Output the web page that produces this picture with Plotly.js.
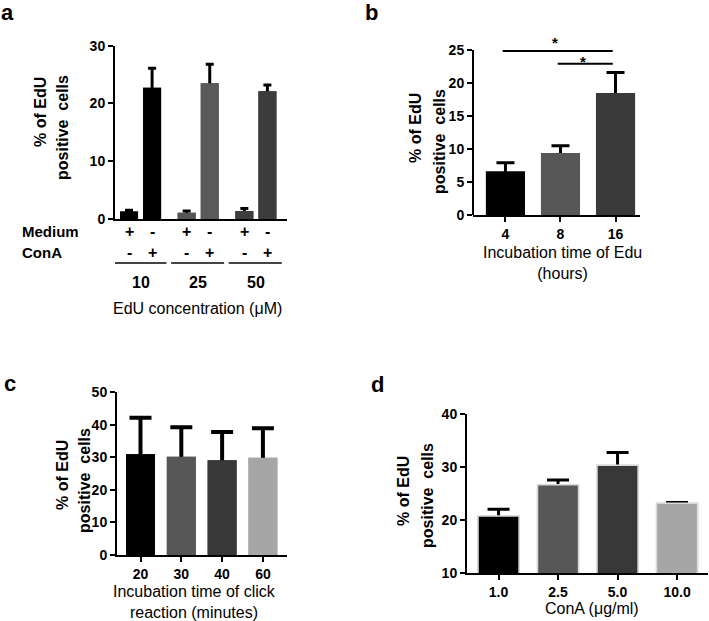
<!DOCTYPE html>
<html><head><meta charset="utf-8">
<script src="https://cdn.plot.ly/plotly-3.0.1.min.js"></script>
<style>html,body{margin:0;padding:0;background:#fff}#chart{width:709px;height:621px}</style>
</head><body><div id="chart"></div>
<script>
// ---------- Panel a ----------
const aConc = ['10', '25', '50'];
const aMedium = [1.3, 1.1, 1.4];
const aMediumErr = [0.2, 0.3, 0.4];
const aConA = [22.7, 23.5, 22.1];
const aConAErr = [3.4, 3.3, 1.1];
const aMediumColors = ['#000000', '#555555', '#3d3d3d'];
const aConAColors = ['#000000', '#5a5a5a', '#3c3c3c'];
const aRowLabels = ['Medium', 'ConA'];
const aSignsMediumBars = ['+', '-'];
const aSignsConABars = ['-', '+'];
const aXTitle = 'EdU concentration (μM)';
const aYTicks = [0, 10, 20, 30];

// ---------- Panel b ----------
const bHours = ['4', '8', '16'];
const bVals = [6.6, 9.4, 18.5];
const bErr = [1.3, 1.1, 3.1];
const bColors = ['#000000', '#575757', '#3a3a3a'];
const bSigFrom = [0, 1];
const bSigTo = [2, 2];
const bSigY = [24.85, 22.9];
const bSigStarY = [26.7, 23.8];
const bSigLabel = ['*', '*'];
const bYTicks = [0, 5, 10, 15, 20, 25];
const bXTitle = 'Incubation time of Edu<br>(hours)';

// ---------- Panel c ----------
const cMinutes = ['20', '30', '40', '60'];
const cVals = [30.9, 30.1, 29.1, 29.8];
const cErr = [11.2, 9.1, 8.6, 9.1];
const cColors = ['#000000', '#575757', '#383838', '#a6a6a6'];
const cYTicks = [0, 10, 20, 30, 40, 50];
const cXTitle = 'Incubation time of click<br>reaction (minutes)';

// ---------- Panel d ----------
const dConA = ['1.0', '2.5', '5.0', '10.0'];
const dVals = [20.8, 26.7, 30.4, 23.2];
const dErr = [1.3, 0.9, 2.4, 0.15];
const dColors = ['#000000', '#575757', '#383838', '#a6a6a6'];
const dYTicks = [10, 20, 30, 40];
const dXTitle = 'ConA (μg/ml)';

const yTitle1 = '% of EdU';
const yTitle2 = 'positive  cells';
const panelLetters = ['a', 'b', 'c', 'd'];

// ---------- helpers ----------
const F = 'Liberation Sans, Arial, Helvetica, sans-serif';
const W = 709, H = 621;
const px = v => v / W;
const py = v => 1 - v / H;

function barPair(x, y, err, colors, width, offset, xa, ya, errW, errT, lineColor) {
  const base = {
    type: 'bar', x: x, y: y, width: width, offset: offset,
    xaxis: xa, yaxis: ya, hoverinfo: 'skip', showlegend: false,
    marker: {color: colors, line: {color: lineColor || 'rgba(0,0,0,0)', width: lineColor ? 1.5 : 0}}
  };
  const under = Object.assign({}, base, {
    error_y: {type: 'data', array: err, arrayminus: err, symmetric: false,
              color: '#000', thickness: errT, width: errW, visible: true}
  });
  const cover = Object.assign({}, base);
  return [under, cover];
}

const traces = [];
traces.push(...barPair(aConc, aMedium, aMediumErr, aMediumColors, 0.3125, -0.356, 'x', 'y', 4, 3));
traces.push(...barPair(aConc, aConA, aConAErr, aConAColors, 0.3125, 0.044, 'x', 'y', 4, 3));
traces.push(...barPair(bHours, bVals, bErr, bColors, 0.71, -0.355, 'x2', 'y2', 9, 3));
traces.push(...barPair(cMinutes, cVals, cErr, cColors, 0.71, -0.355, 'x3', 'y3', 11, 4));
traces.push(...barPair(dConA, dVals, dErr, dColors, 0.69, -0.345, 'x4', 'y4', 11, 3, '#d9d9d9'));

const tickFont = {family: F, size: 14, color: '#000', weight: 'bold'};
function xAxis(domain, range, anchor, showLabels) {
  return {
    domain: domain, range: range, type: 'category', anchor: anchor,
    showline: true, linecolor: '#000', linewidth: 2,
    ticks: showLabels ? 'outside' : '', ticklen: 5, tickwidth: 2, tickcolor: '#000',
    showticklabels: showLabels, tickfont: tickFont,
    showgrid: false, zeroline: false, fixedrange: true
  };
}
function yAxis(domain, range, tickvals, anchor, showline) {
  return {
    domain: domain, range: range, anchor: anchor, tickvals: tickvals,
    showline: showline, linecolor: '#000', linewidth: 2,
    ticks: 'outside', ticklen: 5, tickwidth: 2, tickcolor: '#000',
    tickfont: tickFont, showgrid: false, zeroline: false, fixedrange: true
  };
}

const annotations = [];
const shapes = [];

const letterPos = [[7, 13], [371, 13], [10, 383], [378, 384]];
panelLetters.forEach((t, i) => annotations.push({
  text: t, xref: 'paper', yref: 'paper', x: px(letterPos[i][0]), y: py(letterPos[i][1]),
  xanchor: 'center', yanchor: 'middle', showarrow: false,
  font: {family: F, size: 22, weight: 'bold', color: '#000'}
}));

const yTitlePos = [
  [[40, 112], [62, 128]],
  [[415, 128], [439, 142]],
  [[62, 475], [84, 481]],
  [[403, 491], [427, 495]]
];
yTitlePos.forEach(pair => {
  [yTitle1, yTitle2].forEach((t, k) => annotations.push({
    text: t, xref: 'paper', yref: 'paper', x: px(pair[k][0]), y: py(pair[k][1]),
    xanchor: 'center', yanchor: 'middle', textangle: -90, showarrow: false,
    font: {family: F, size: 16, weight: 'bold', color: '#000'}
  }));
});

const rowY = [231, 252];
aRowLabels.forEach((lab, r) => {
  annotations.push({
    text: lab, xref: 'paper', yref: 'paper', x: px(20), y: py(rowY[r]),
    xanchor: 'left', yanchor: 'middle', showarrow: false,
    font: {family: F, size: 15, weight: 'bold', color: '#000'}
  });
  aConc.forEach((c, i) => {
    annotations.push({
      text: aSignsMediumBars[r], xref: 'x', yref: 'paper', x: i - 0.2, y: py(rowY[r]),
      xanchor: 'center', yanchor: 'middle', showarrow: false,
      font: {family: F, size: 16, weight: 'bold', color: '#000'}
    });
    annotations.push({
      text: aSignsConABars[r], xref: 'x', yref: 'paper', x: i + 0.2, y: py(rowY[r]),
      xanchor: 'center', yanchor: 'middle', showarrow: false,
      font: {family: F, size: 16, weight: 'bold', color: '#000'}
    });
  });
});
aConc.forEach((c, i) => {
  shapes.push({type: 'line', xref: 'x', yref: 'paper', x0: i - 0.47, x1: i + 0.45,
               y0: py(263), y1: py(263), line: {color: '#444', width: 2}});
  annotations.push({
    text: c, xref: 'x', yref: 'paper', x: i, y: py(282),
    xanchor: 'center', yanchor: 'middle', showarrow: false,
    font: {family: F, size: 16, weight: 'bold', color: '#000'}
  });
});
annotations.push({
  text: aXTitle, xref: 'paper', yref: 'paper', x: px(197), y: py(308),
  xanchor: 'center', yanchor: 'middle', showarrow: false,
  font: {family: F, size: 16, color: '#000'}
});

shapes.push({type: 'line', xref: 'x2 domain', yref: 'y2', x0: 0, x1: 0,
             y0: 0, y1: bYTicks[bYTicks.length - 1], line: {color: '#000', width: 2}});
bSigFrom.forEach((f, k) => {
  shapes.push({type: 'line', xref: 'x2', yref: 'y2', x0: f - 0.05, x1: bSigTo[k] - 0.05,
               y0: bSigY[k], y1: bSigY[k], line: {color: '#000', width: 2}});
  annotations.push({
    text: bSigLabel[k], xref: 'x2', yref: 'y2', x: (f + bSigTo[k]) / 2 - 0.1, y: bSigStarY[k],
    xanchor: 'center', yanchor: 'middle', yshift: -4, showarrow: false,
    font: {family: F, size: 15, weight: 'bold', color: '#000'}
  });
});
annotations.push({
  text: bXTitle, xref: 'paper', yref: 'paper', x: px(562), y: py(263),
  xanchor: 'center', yanchor: 'middle', showarrow: false,
  font: {family: F, size: 16, color: '#000'}
});

annotations.push({
  text: cXTitle, xref: 'paper', yref: 'paper', x: px(194), y: py(602),
  xanchor: 'center', yanchor: 'middle', showarrow: false,
  font: {family: F, size: 16, color: '#000'}
});
annotations.push({
  text: dXTitle, xref: 'paper', yref: 'paper', x: px(592), y: py(608),
  xanchor: 'center', yanchor: 'middle', showarrow: false,
  font: {family: F, size: 16, color: '#000'}
});

const layout = {
  width: W, height: H,
  margin: {l: 0, r: 0, t: 0, b: 0, pad: 0},
  paper_bgcolor: '#fff', plot_bgcolor: 'rgba(0,0,0,0)',
  barmode: 'overlay', showlegend: false,
  font: {family: F, color: '#000'},
  xaxis: xAxis([px(115), px(287)], [-0.443, 2.54], 'y', false),
  yaxis: yAxis([py(219), py(45.7)], [0, 30], aYTicks, 'x', true),
  xaxis2: xAxis([px(473), px(640)], [-0.59, 2.445], 'y2', true),
  yaxis2: yAxis([py(215), py(30.2)], [0, 28], bYTicks, 'x2', false),
  xaxis3: xAxis([px(117), px(287)], [-0.576, 3.59], 'y3', true),
  yaxis3: yAxis([py(555), py(392)], [0, 50], cYTicks, 'x3', true),
  xaxis4: xAxis([px(467), px(708)], [-0.53, 3.52], 'y4', true),
  yaxis4: yAxis([py(573.3), py(414.3)], [10, 40], dYTicks, 'x4', true),
  annotations: annotations,
  shapes: shapes
};

Plotly.newPlot('chart', traces, layout, {displayModeBar: false, staticPlot: true});
</script>
</body></html>
